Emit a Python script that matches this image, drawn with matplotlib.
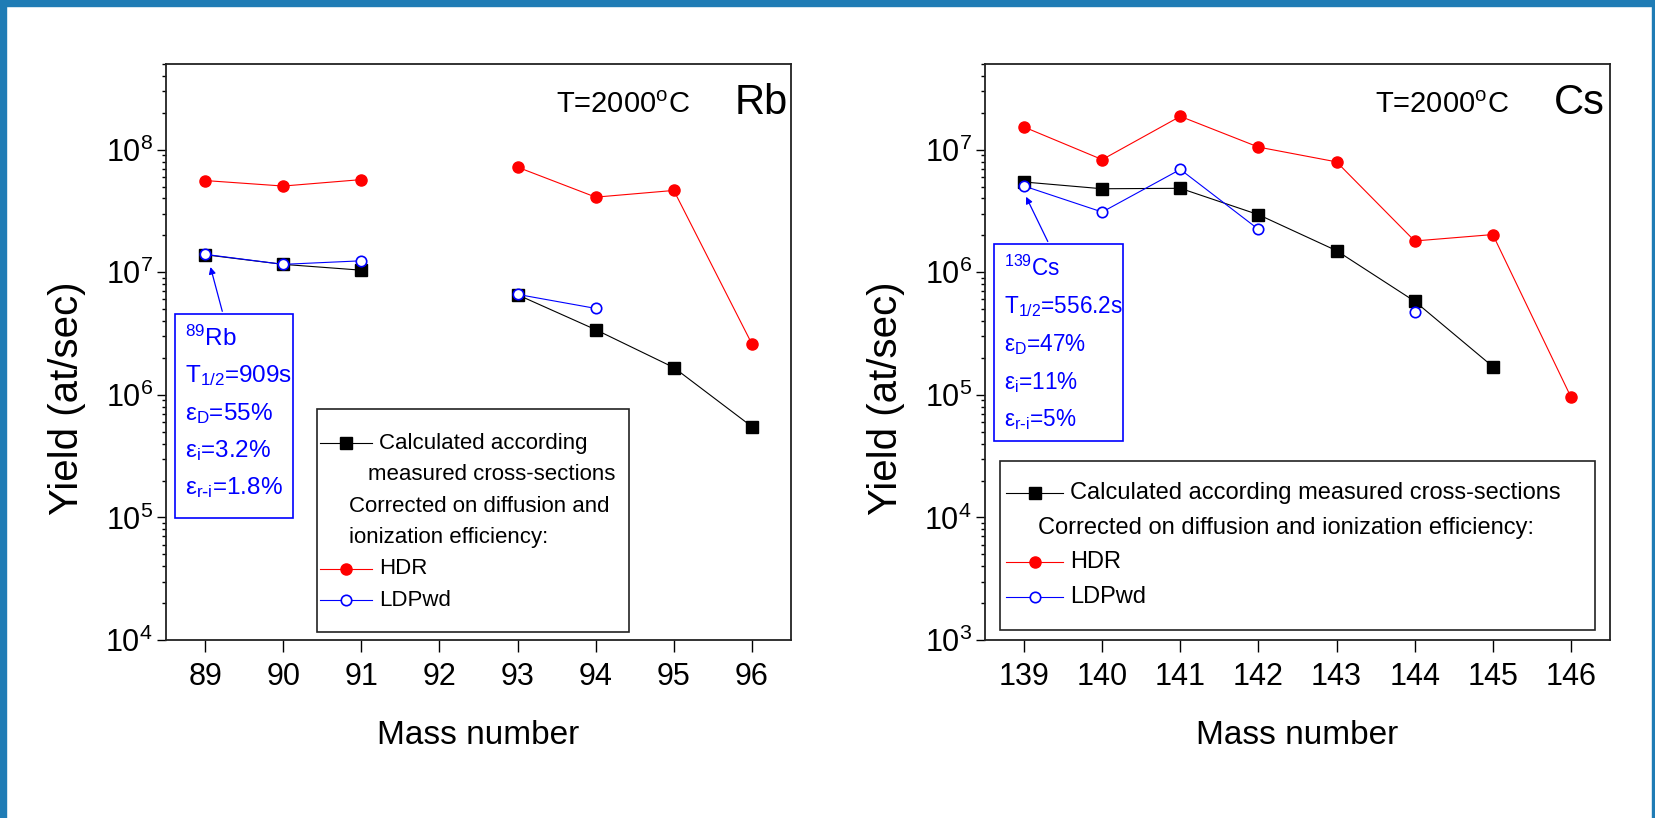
import numpy as np
import matplotlib
matplotlib.use('Agg')
import matplotlib.pyplot as plt
from matplotlib.patches import Rectangle
from matplotlib.lines import Line2D

nan = np.nan

# Rb panel
rb_mass = [89, 90, 91, 92, 93, 94, 95, 96]
rb_calc = [1.39e7, 1.16e7, 1.04e7, nan, 6.55e6, 3.4e6, 1.67e6, 5.5e5]
rb_hdr = [5.6e7, 5.05e7, 5.7e7, nan, 7.2e7, 4.1e7, 4.65e7, 2.6e6]
rb_ldp = [1.4e7, 1.16e7, 1.24e7, nan, 6.6e6, 5.07e6, nan, nan]

# Cs panel
cs_mass = [139, 140, 141, 142, 143, 144, 145, 146]
cs_calc = [5.45e6, 4.8e6, 4.84e6, 2.95e6, 1.5e6, 5.8e5, 1.7e5, nan]
cs_hdr = [1.53e7, 8.3e6, 1.87e7, 1.05e7, 7.95e6, 1.8e6, 2.03e6, 9.6e4]
cs_ldp = [5.05e6, 3.1e6, 6.9e6, 2.24e6, nan, 4.7e5, nan, nan]

rb_box = [r'$^{89}$Rb', r'T$_{1/2}$=909s', r'ε$_{D}$=55%', r'ε$_{i}$=3.2%', r'ε$_{r\text{-}i}$=1.8%']
cs_box = [r'$^{139}$Cs', r'T$_{1/2}$=556.2s', r'ε$_{D}$=47%', r'ε$_{i}$=11%', r'ε$_{r\text{-}i}$=5%']

plt.rcParams['font.family'] = ['Liberation Sans', 'DejaVu Sans']
plt.rcParams['mathtext.default'] = 'regular'

W, H = 1655, 818
fig = plt.figure(figsize=(W / 100, H / 100), dpi=100)


def fx(px):
    return px / W


def fy(py):
    return 1 - py / H


# blue frame
for r in [(0, 812, W, 6), (0, 0, 6, H), (1652, 0, 3, H)]:
    fig.patches.append(Rectangle((fx(r[0]), r[1] / H), r[2] / W, r[3] / H,
                                 transform=fig.transFigure, color='#1f7cb5', zorder=0))

styles = {'calc': dict(color='black', marker='s', ms=9, mfc='black', mec='black'),
          'hdr': dict(color='red', marker='o', ms=8, mfc='red', mec='red'),
          'ldp': dict(color='blue', marker='o', ms=7.5, mfc='white', mec='blue', mew=1.2)}


def panel(left, mass, calc, hdr, ldp, ylim, elem, box, box_rect, box_ys, arrow_xy, arrow_from,
          leg, box_fs):
    ax = fig.add_axes([fx(left), (H - 640) / H, 625 / W, 576 / H])
    ax.set_yscale('log')
    ax.plot(mass, calc, lw=0.8, zorder=3, **styles['calc'])
    ax.plot(mass, hdr, lw=0.8, zorder=4, **styles['hdr'])
    ax.plot(mass, ldp, lw=0.8, zorder=5, **styles['ldp'])
    ax.set_xlim(mass[0] - 0.5, mass[-1] + 0.5)
    ax.set_ylim(*ylim)
    ax.set_xticks(mass)
    ax.tick_params(axis='x', which='major', direction='out', length=8.5, width=1, pad=7, labelsize=22)
    ax.tick_params(axis='y', which='major', direction='out', length=6.5, width=1, pad=3, labelsize=22)
    ax.tick_params(axis='y', which='minor', direction='out', length=3, width=1)
    for s in ax.spines.values():
        s.set_color('#222222')
        s.set_linewidth(1.3)
    ax.set_xlabel('Mass number', fontsize=24, va='center')
    ax.xaxis.set_label_coords(0.5, -0.165)
    ax.set_ylabel('Yield (at/sec)', fontsize=29, va='center')
    ax.yaxis.set_label_coords(-0.158, 0.42)

    fig.text(fx(left + 390), fy(105), r'T=2000$^{o}$C', fontsize=21, va='center')
    fig.text(fx(left + 569), fy(103), elem, fontsize=30, va='center')

    # info box
    bx0, by0, bx1, by1 = box_rect
    fig.patches.append(Rectangle((fx(bx0), fy(by1)), (bx1 - bx0) / W, (by1 - by0) / H,
                                 transform=fig.transFigure, fill=False, ec='blue', lw=1.2, zorder=6))
    for t, ty in zip(box, box_ys):
        fig.text(fx(bx0 + 10), fy(ty), t, color='blue', fontsize=box_fs, va='center')
    ax.annotate('', xy=arrow_xy, xycoords='data',
                xytext=(fx(arrow_from[0]), fy(arrow_from[1])), textcoords='figure fraction',
                arrowprops=dict(arrowstyle='-|>', color='blue', lw=0.9, mutation_scale=10))

    # legend
    lx0, ly0, lx1, ly1, hx, rows, lfs = leg
    fig.patches.append(Rectangle((fx(lx0), fy(ly1)), (lx1 - lx0) / W, (ly1 - ly0) / H,
                                 transform=fig.transFigure, fill=False, ec='#222222', lw=1.2, zorder=6))
    for key, text, ty, tx in rows:
        if key:
            st = styles[key]
            fig.add_artist(Line2D([fx(hx[0]), fx(hx[1])], [fy(ty), fy(ty)], lw=0.8,
                                  color=st['color'], transform=fig.transFigure))
            fig.add_artist(Line2D([fx((hx[0] + hx[1]) / 2)], [fy(ty)], lw=0,
                                  transform=fig.transFigure, **st))
        fig.text(fx(tx), fy(ty), text, fontsize=lfs, va='center')
    return ax


panel(166, rb_mass, rb_calc, rb_hdr, rb_ldp, (1e4, 5e8), 'Rb', rb_box,
      (175, 314, 293, 518), [338, 376, 414, 451, 488], (89.06, 1.16e7), (223, 314),
      (317, 409, 629, 632, (320, 372),
       [('calc', 'Calculated according', 443, 379),
        (None, 'measured cross-sections', 475, 368),
        (None, 'Corrected on diffusion and', 507, 349),
        (None, 'ionization efficiency:', 538, 349),
        ('hdr', 'HDR', 569, 379),
        ('ldp', 'LDPwd', 600, 379)], 16), 17.5)

panel(985, cs_mass, cs_calc, cs_hdr, cs_ldp, (1e3, 5e7), 'Cs', cs_box,
      (994, 244, 1123, 441), [268, 307, 345, 383, 420], (139.01, 4.33e6), (1049, 244),
      (1000, 461, 1595, 630, (1006, 1063),
       [('calc', 'Calculated according measured cross-sections', 493, 1070),
        (None, 'Corrected on diffusion and ionization efficiency:', 528, 1038),
        ('hdr', 'HDR', 562, 1070),
        ('ldp', 'LDPwd', 597, 1070)], 17), 16.3)

fig.savefig('out.png', dpi=100)
